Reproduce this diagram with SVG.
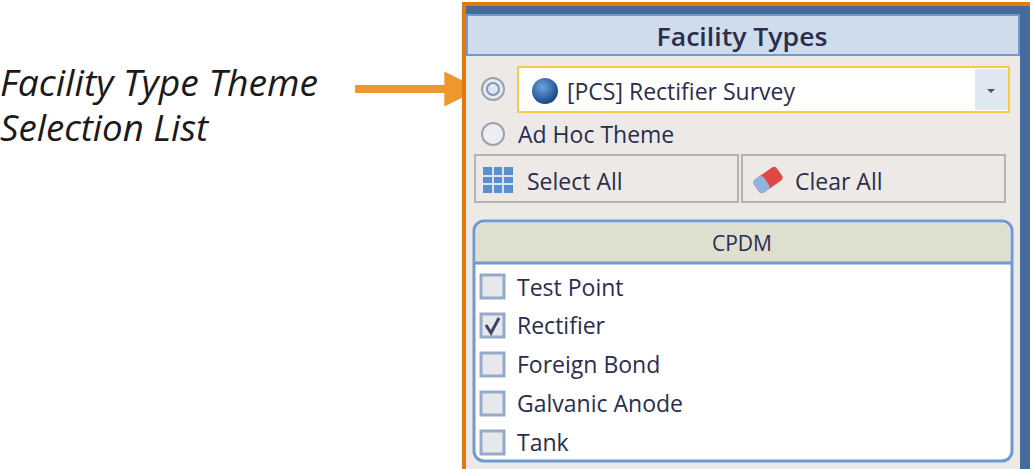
<svg xmlns="http://www.w3.org/2000/svg" width="1030" height="469" viewBox="0 0 1030 469">
<style>
.ui{font-family:"Open Sans","Liberation Sans",sans-serif;fill:#2a2d50}
.it{font-family:"Open Sans","Liberation Sans",sans-serif;font-style:italic;font-size:36px;fill:#1a1a1a}
.cb{fill:#e6e8ec;stroke:#95a9c8;stroke-width:3}
.btn{fill:#ece9e7;stroke:#b5b2b0;stroke-width:2}
</style>
<defs>
<marker id="ah" viewBox="0 0 10 10" refX="9" refY="5" markerWidth="5" markerHeight="4.4" orient="auto" markerUnits="strokeWidth"><path d="M0,0 L10,5 L0,10 z" fill="#f0962e"/></marker>
<radialGradient id="glb" cx="0.4" cy="0.35" r="0.7"><stop offset="0" stop-color="#6fa3e0"/><stop offset="1" stop-color="#123f80"/></radialGradient>
</defs>
<rect width="1030" height="469" fill="#fff"/>
<g id="label">
<text class="it" x="0" y="96" textLength="318" lengthAdjust="spacingAndGlyphs">Facility Type Theme</text>
<text class="it" x="0" y="141" textLength="208" lengthAdjust="spacingAndGlyphs">Selection List</text>
</g>
<g id="connectors">
<line x1="355" y1="89" x2="476" y2="89" stroke="#f0962e" stroke-width="8" marker-end="url(#ah)"/>
</g>
<g id="panel">
<rect x="462" y="2" width="570" height="470" fill="#e07a0c"/>
<rect x="466" y="6" width="566" height="466" fill="#456b9a"/>
<rect x="466" y="14" width="554" height="458" fill="#ece9e7"/>
<rect x="467" y="15" width="552" height="40" fill="#cfdcec" stroke="#6f9bd0" stroke-width="2"/>
<text class="ui" x="742" y="46" font-size="25" font-weight="600" text-anchor="middle" textLength="171" lengthAdjust="spacingAndGlyphs">Facility Types</text>
</g>
<g id="combo">
<circle cx="493" cy="89" r="11" fill="#e8eaee" stroke="#9aa3b0" stroke-width="2"/>
<circle cx="493" cy="89" r="6" fill="#dfe7f4" stroke="#7f95b8" stroke-width="2"/>
<rect x="518" y="67" width="491" height="45" fill="#fff" stroke="#f5cc45" stroke-width="2"/>
<rect x="975" y="69" width="33" height="41" fill="#dfe7f2"/>
<path d="M987,89 L995,89 L991,93 z" fill="#555"/>
<circle cx="545" cy="91" r="13" fill="url(#glb)"/>
<text class="ui" x="567" y="100" font-size="23">[PCS] Rectifier Survey</text>
</g>
<g id="adhoc">
<circle cx="493" cy="134" r="11" fill="#eceef1" stroke="#9aa3b0" stroke-width="2"/>
<text class="ui" x="518" y="143" font-size="23">Ad Hoc Theme</text>
</g>
<g id="selectall">
<rect class="btn" x="475" y="155" width="263" height="47"/>
<rect x="483" y="167" width="30" height="26" fill="#5b8fd0"/>
<path d="M483,176 H513 M483,184 H513 M493,167 V193 M503,167 V193" stroke="#d6e4f6" stroke-width="2"/>
<text class="ui" x="527" y="190" font-size="23">Select All</text>
</g>
<g id="clearall">
<rect class="btn" x="742" y="155" width="263" height="47"/>
<g transform="rotate(-35 768 180)"><rect x="754" y="172" width="28" height="16" rx="4" fill="#e04848"/><rect x="754" y="172" width="12" height="16" rx="4" fill="#8fb4e0"/></g>
<text class="ui" x="795" y="190" font-size="23">Clear All</text>
</g>
<g id="cpdm">
<rect x="474" y="221" width="538" height="240" rx="10" fill="#fff" stroke="#6f9bd0" stroke-width="3"/>
<path d="M476,262 V232 Q476,223 485,223 H1001 Q1010,223 1010,232 V262 z" fill="#dfdfd0"/>
<line x1="475" y1="263" x2="1011" y2="263" stroke="#6f9bd0" stroke-width="3"/>
<text class="ui" x="742" y="251" font-size="21" text-anchor="middle">CPDM</text>
</g>
<g id="items">
<rect class="cb" x="481" y="275" width="23" height="23"/><text class="ui" x="517" y="296" font-size="23">Test Point</text>
<rect class="cb" x="481" y="314" width="23" height="23"/><path d="M486,325 L491,333 L499,318" fill="none" stroke="#3b4463" stroke-width="3"/><text class="ui" x="517" y="334" font-size="23">Rectifier</text>
<rect class="cb" x="481" y="353" width="23" height="23"/><text class="ui" x="517" y="373" font-size="23">Foreign Bond</text>
<rect class="cb" x="481" y="392" width="23" height="23"/><text class="ui" x="517" y="412" font-size="23">Galvanic Anode</text>
<rect class="cb" x="481" y="431" width="23" height="23"/><text class="ui" x="517" y="451" font-size="23">Tank</text>
</g>
</svg>
